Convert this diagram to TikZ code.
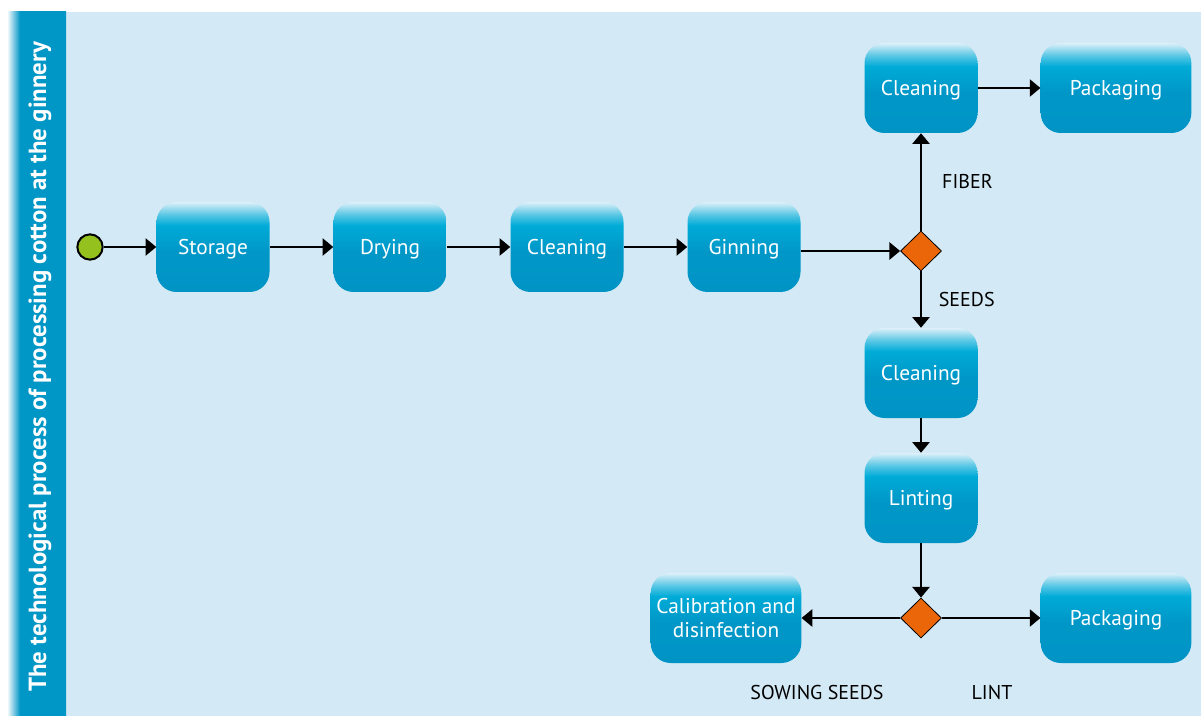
\documentclass[tikz,border=0pt]{standalone}
\usepackage{fontspec}
\setmainfont{PT Sans}
\usetikzlibrary{arrows.meta,shapes.geometric}
\definecolor{bgblue}{HTML}{D3E9F5}
\definecolor{barblue}{HTML}{0096C6}
\definecolor{boxtop}{HTML}{DDF0F9}
\definecolor{boxcyan}{HTML}{00ABD7}
\definecolor{boxbot}{HTML}{0094C5}
\definecolor{diaorange}{HTML}{EB6608}
\definecolor{startgreen}{HTML}{95C11F}
\pgfdeclareverticalshading{boxshade}{100bp}{color(0bp)=(boxbot); color(25bp)=(boxbot); color(48bp)=(boxbot!85!boxcyan); color(62bp)=(boxcyan); color(68bp)=(boxcyan!60!boxtop); color(75bp)=(boxtop); color(100bp)=(boxtop)}
\pgfdeclarehorizontalshading{barshade}{100bp}{color(0bp)=(white); color(25bp)=(white); color(36bp)=(barblue); color(100bp)=(barblue)}
\tikzstyle{proc}=[rectangle,rounded corners=15pt,shading=boxshade,text=white,minimum width=84.75pt,minimum height=67.5pt,align=center,text depth=0pt,font=\fontsize{16}{18}\selectfont]
\tikzstyle{wide}=[proc,minimum width=113pt]
\tikzstyle{dec}=[diamond,draw=black,fill=diaorange,minimum width=30.75pt,minimum height=30pt,inner sep=0pt,line width=0.6pt]
\tikzstyle{start}=[circle,draw=black,fill=startgreen,minimum size=19pt,inner sep=0pt,line width=1.5pt]
\tikzstyle{lbl}=[font=\fontsize{15}{18}\selectfont,text=black]
\begin{document}
\begin{tikzpicture}[x=0.75pt,y=-0.75pt]
\useasboundingbox (0,0) rectangle (1201,716);
\fill[bgblue] (66,12) rectangle (1201,716);
\shade[shading=barshade] (7,12) rectangle (66,716);
\node[rotate=90,text=white,font=\bfseries\fontsize{18.6}{20}\selectfont] (title) at (40,367) {The technological process of processing cotton at the ginnery};
\node[start] (st) at (90,247) {};
\node[proc] (stor) at (213,247) {Storage};
\node[proc] (dry) at (390,247) {Drying};
\node[proc] (clean) at (567,247) {Cleaning};
\node[proc] (gin) at (744,247) {Ginning};
\node[dec] (d1) at (921,251) {};
\node[proc] (fclean) at (921,88) {Cleaning};
\node[wide] (fpack) at (1116,88) {Packaging};
\node[proc] (sclean) at (921,373) {Cleaning};
\node[proc] (lint) at (921,498) {Linting};
\node[dec] (d2) at (921,618) {};
\node[wide] (calib) at (726,618) {Calibration and\\disinfection};
\node[wide] (lpack) at (1116,618) {Packaging};
\node[lbl] (sow) at (817,692) {SOWING SEEDS};
\node[lbl] (lt) at (992,692) {LINT};
\path[->,>={Triangle[length=8pt,width=13pt]},line width=1.1pt]
(st) edge (stor)
(stor) edge (dry)
(dry) edge (clean)
(clean) edge (gin)
(gin.east |- d1) edge (d1)
(d1) edge node[lbl,right=12pt] {FIBER} (fclean)
(fclean) edge (fpack)
(d1) edge node[lbl,right=9.5pt] {SEEDS} (sclean)
(sclean) edge (lint)
(lint) edge (d2)
(d2) edge (calib)
(d2) edge (lpack);
\end{tikzpicture}
\end{document}
